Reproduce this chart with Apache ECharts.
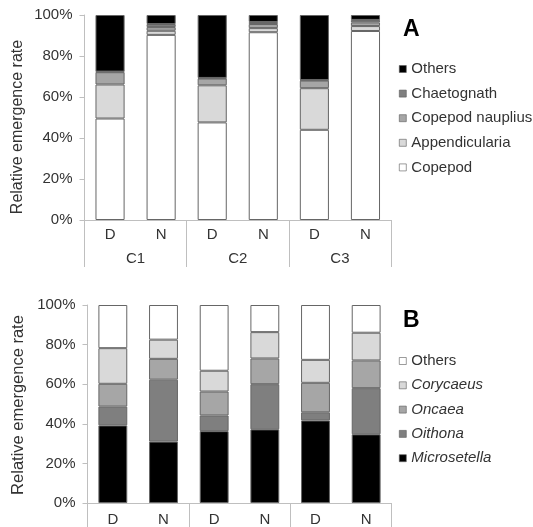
<!DOCTYPE html>
<html>
<head>
<meta charset="utf-8">
<script src="https://cdn.jsdelivr.net/npm/echarts@6/dist/echarts.min.js"></script>
<style>
html,body{margin:0;padding:0;background:#fff;}
#chart{width:533px;height:527px;}
</style>
</head>
<body>
<div id="chart"></div>
<script>
// ---- Data ----
const categories = ['D', 'N', 'D', 'N', 'D', 'N'];
const groups = ['C1', 'C2', 'C3'];

// Panel A (percent)
const aCopepod        = [49.5, 90.3, 47.6, 91.6, 44.0, 92.2];
const aAppendicularia = [16.6, 2.0, 18.1, 2.0, 20.3, 2.4];
const aNauplius       = [6.0, 1.8, 3.3, 2.0, 3.7, 1.8];
const aChaetognath    = [0.3, 1.5, 0.3, 1.0, 0.3, 1.2];
const aOthers         = [27.6, 4.4, 30.7, 3.4, 31.7, 2.4];

// Panel B (percent)
const bMicrosetella = [39.2, 31.0, 36.3, 37.2, 41.7, 34.7];
const bOithona      = [9.5, 31.3, 7.9, 22.8, 4.1, 23.3];
const bOncaea       = [11.5, 10.5, 12.1, 13.0, 14.9, 14.0];
const bCorycaeus    = [18.0, 9.7, 10.5, 13.3, 11.6, 14.0];
const bOthers       = [21.8, 17.5, 33.2, 13.7, 27.7, 14.0];

const axisColor = '#bfbfbf';
const textColor = '#333';
const font = 'Liberation Sans, Arial, sans-serif';
const border = '#666';

function bar(name, data, color, xi, yi, stack) {
  return {
    name: name, type: 'bar', stack: stack, data: data,
    xAxisIndex: xi, yAxisIndex: yi, barWidth: '57%',
    itemStyle: { color: color, borderColor: border, borderWidth: 1 },
    emphasis: { disabled: true }
  };
}

function yAx(grid) {
  return {
    type: 'value', gridIndex: grid, min: 0, max: 100, interval: 20,
    axisLine: { show: true, lineStyle: { color: axisColor } },
    axisTick: { show: true, length: 5, lineStyle: { color: axisColor } },
    splitLine: { show: false },
    axisLabel: { formatter: '{value}%', color: textColor, fontSize: 15, fontFamily: font, margin: 12 }
  };
}

const legendItemStyle = { borderColor: '#595959', borderWidth: 0.6 };

const chart = echarts.init(document.getElementById('chart'), null, { renderer: 'canvas' });
chart.setOption({
  animation: false,
  backgroundColor: '#fff',
  textStyle: { fontFamily: font },
  grid: [
    { left: 84.5, top: 15, width: 306.5, height: 205 },
    { left: 87.5, top: 305, width: 304, height: 200 }
  ],
  xAxis: [
    { type: 'category', gridIndex: 0, data: categories,
      axisLine: { lineStyle: { color: axisColor } }, axisTick: { show: false },
      axisLabel: { color: textColor, fontSize: 15, fontFamily: font, margin: 7 } },
    { type: 'category', gridIndex: 0, data: groups, position: 'bottom',
      axisLine: { show: false },
      axisTick: { show: true, length: 47, lineStyle: { color: axisColor } },
      axisLabel: { color: textColor, fontSize: 15, fontFamily: font, margin: 31 } },
    { type: 'category', gridIndex: 1, data: categories,
      axisLine: { lineStyle: { color: axisColor } }, axisTick: { show: false },
      axisLabel: { color: textColor, fontSize: 15, fontFamily: font, margin: 9 } },
    { type: 'category', gridIndex: 1, data: groups, position: 'bottom',
      axisLine: { show: false },
      axisTick: { show: true, length: 30, lineStyle: { color: axisColor } },
      axisLabel: { show: false } }
  ],
  yAxis: [yAx(0), yAx(1)],
  legend: [
    { orient: 'vertical', left: 394, top: 56, itemWidth: 7, itemHeight: 7, itemGap: 8.6,
      icon: 'rect', selectedMode: false, itemStyle: legendItemStyle,
      data: ['Others', 'Chaetognath', 'Copepod nauplius', 'Appendicularia', 'Copepod'],
      textStyle: { color: textColor, fontSize: 15, fontFamily: font, lineHeight: 16 } },
    { orient: 'vertical', left: 394, top: 348, itemWidth: 7, itemHeight: 7, itemGap: 8.3,
      icon: 'rect', selectedMode: false, itemStyle: legendItemStyle,
      data: ['Others (B)', 'Corycaeus', 'Oncaea', 'Oithona', 'Microsetella'],
      formatter: function (n) { return n === 'Others (B)' ? 'Others' : '{i|' + n + '}'; },
      textStyle: { color: textColor, fontSize: 15, fontFamily: font, lineHeight: 16,
        rich: { i: { fontStyle: 'italic', color: textColor, fontSize: 15, fontFamily: font, lineHeight: 16 } } } }
  ],
  graphic: [
    { type: 'text', left: 403, top: 18, style: { text: 'A', font: 'bold 23px Liberation Sans, Arial, sans-serif', fill: '#000' } },
    { type: 'text', left: 403, top: 309, style: { text: 'B', font: 'bold 23px Liberation Sans, Arial, sans-serif', fill: '#000' } },
    { type: 'text', x: 18, y: 127, rotation: Math.PI / 2,
      style: { text: 'Relative emergence rate', font: '16px Liberation Sans, Arial, sans-serif', fill: textColor, align: 'center', verticalAlign: 'middle' } },
    { type: 'text', x: 18, y: 405, rotation: Math.PI / 2,
      style: { text: 'Relative emergence rate', font: '16.5px Liberation Sans, Arial, sans-serif', fill: textColor, align: 'center', verticalAlign: 'middle' } }
  ],
  series: [
    bar('Copepod', aCopepod, '#ffffff', 0, 0, 'A'),
    bar('Appendicularia', aAppendicularia, '#d9d9d9', 0, 0, 'A'),
    bar('Copepod nauplius', aNauplius, '#a6a6a6', 0, 0, 'A'),
    bar('Chaetognath', aChaetognath, '#7f7f7f', 0, 0, 'A'),
    bar('Others', aOthers, '#000000', 0, 0, 'A'),
    bar('Microsetella', bMicrosetella, '#000000', 2, 1, 'B'),
    bar('Oithona', bOithona, '#7f7f7f', 2, 1, 'B'),
    bar('Oncaea', bOncaea, '#a6a6a6', 2, 1, 'B'),
    bar('Corycaeus', bCorycaeus, '#d9d9d9', 2, 1, 'B'),
    bar('Others (B)', bOthers, '#ffffff', 2, 1, 'B')
  ]
});
</script>
</body>
</html>
